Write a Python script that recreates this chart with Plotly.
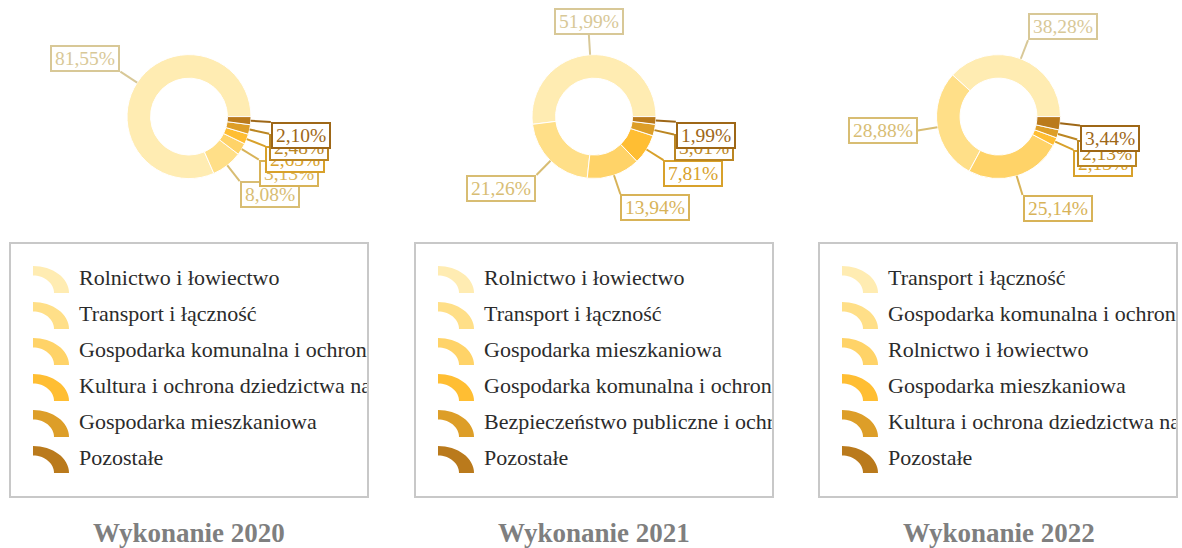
import math
import plotly.graph_objects as go

W, H = 1182, 548
OFF = 0  # page body margin removed via post_script

# ---------------- data ----------------
years = ["2020", "2021", "2022"]
titles = ["Wykonanie 2020", "Wykonanie 2021", "Wykonanie 2022"]

labels_2020 = ["Rolnictwo i łowiectwo", "Transport i łączność",
               "Gospodarka komunalna i ochrona środowiska",
               "Kultura i ochrona dziedzictwa narodowego",
               "Gospodarka mieszkaniowa", "Pozostałe"]
values_2020 = [81.55, 8.08, 3.13, 2.65, 2.48, 2.10]

labels_2021 = ["Rolnictwo i łowiectwo", "Transport i łączność",
               "Gospodarka mieszkaniowa",
               "Gospodarka komunalna i ochrona środowiska",
               "Bezpieczeństwo publiczne i ochrona przeciwpożarowa", "Pozostałe"]
values_2021 = [51.99, 21.26, 13.94, 7.81, 3.01, 1.99]

labels_2022 = ["Transport i łączność",
               "Gospodarka komunalna i ochrona środowiska",
               "Rolnictwo i łowiectwo", "Gospodarka mieszkaniowa",
               "Kultura i ochrona dziedzictwa narodowego", "Pozostałe"]
values_2022 = [38.28, 28.88, 25.14, 2.13, 2.13, 3.44]

slice_colors = ["#FFECB2", "#FFDF88", "#FFD368", "#FFBE33", "#DD9E28", "#BA7A1C"]

all_labels = [labels_2020, labels_2021, labels_2022]
all_values = [values_2020, values_2021, values_2022]

# ---------------- layout geometry (screen pixels) ----------------
centers_x = [189, 594, 998.5]
center_y = 116.6
R = 62
HOLE = 0.62
LEAD = 20
box_left = [10, 415, 819]
box_w = 358
box_top, box_bot = 243, 497
row_y0, row_step = 279.5, 36
FONT = "Liberation Serif, Times New Roman, serif"
LABEL_FS = 19.5
LEGEND_FS = 22


def darker(hexc, f=0.85):
    r, g, b = int(hexc[1:3], 16), int(hexc[3:5], 16), int(hexc[5:7], 16)
    return "#%02X%02X%02X" % (int(r * f), int(g * f), int(b * f))


def px(x):
    return (x - OFF) / W


def py(y):
    return 1 - (y - OFF) / H


def fmt(v):
    return ("%.2f" % v).replace(".", ",") + "%"


def text_width(s, fs):
    w = 0
    for ch in s:
        if ch.isdigit():
            w += 0.5
        elif ch == ",":
            w += 0.25
        elif ch == "%":
            w += 0.833
        else:
            w += 0.5
    return w * fs


fig = go.Figure()
shapes = []
annotations = []
layout_axes = {}

for k in range(3):
    cx = centers_x[k]
    vals = all_values[k]
    labs = all_labels[k]
    total = sum(vals)
    # first slice starts at 3 o'clock and slices run counterclockwise
    rot = 90 - 360.0 * vals[0] / total
    fig.add_trace(go.Pie(
        labels=labs, values=vals, sort=False, direction="counterclockwise",
        rotation=rot, hole=HOLE, textinfo="none", hoverinfo="skip",
        marker=dict(colors=slice_colors, line=dict(color="white", width=1)),
        domain=dict(x=[px(cx - R), px(cx + R)], y=[py(center_y + R), py(center_y - R)]),
        showlegend=False,
    ))

    cum = 0.0
    for i, v in enumerate(vals):
        a = math.radians(360.0 * (cum + v / 2) / total)
        cum += v
        c, s = math.cos(a), math.sin(a)
        col = darker(slice_colors[i])
        x0, y0 = cx + R * c, center_y - R * s
        x1, y1 = cx + (R + LEAD) * c, center_y - (R + LEAD) * s
        shapes.append(dict(type="line", xref="paper", yref="paper",
                           x0=px(x0), y0=py(y0), x1=px(x1), y1=py(y1),
                           line=dict(color=col, width=2), layer="above"))
        xa = "center" if abs(c) < 0.15 else ("left" if c > 0 else "right")
        if s > 0:
            ya = "bottom"
        elif c < -0.9:
            ya = "middle"
        else:
            ya = "top"
        t = fmt(v)
        annotations.append(dict(
            x=px(x1), y=py(y1), xref="paper", yref="paper", text=t,
            showarrow=False, xanchor=xa, yanchor=ya,
            width=text_width(t, LABEL_FS) + 6, height=23,
            font=dict(family=FONT, size=LABEL_FS, color=col),
            bordercolor=col, borderwidth=2, borderpad=0, bgcolor="white",
        ))

    # legend box
    bl = box_left[k]
    shapes.append(dict(type="rect", xref="paper", yref="paper",
                       x0=px(bl), x1=px(bl + box_w), y0=py(box_top), y1=py(box_bot),
                       line=dict(color="#C8C8C8", width=2), layer="above"))
    # legend icons (elliptic quarter rings)
    for i in range(len(labs)):
        yc = row_y0 + i * row_step
        ix0, iy0 = bl + 23, yc - 13.5
        ox, oy = 36, 27
        inx, iny = 21, 17.5
        ex, ey = ix0, iy0 + oy
        pts = []
        n = 16
        for j in range(n + 1):
            th = math.pi / 2 - (math.pi / 2) * j / n
            pts.append((ex + ox * math.cos(th), ey - oy * math.sin(th)))
        for j in range(n + 1):
            th = (math.pi / 2) * j / n
            pts.append((ex + inx * math.cos(th), ey - iny * math.sin(th)))
        path = "M " + " L ".join("%.5f,%.5f" % (px(a_), py(b_)) for a_, b_ in pts) + " Z"
        shapes.append(dict(type="path", xref="paper", yref="paper", path=path,
                           fillcolor=slice_colors[i], line=dict(width=0), layer="above"))

    # legend text via clipped scatter text on its own axis
    axn = "" if k == 0 else str(k + 1)
    fig.add_trace(go.Scatter(
        x=[bl + 69] * len(labs), y=[row_y0 + i * row_step for i in range(len(labs))],
        mode="text", text=labs, textposition="middle right",
        textfont=dict(family=FONT, size=LEGEND_FS, color="#2B2B2B"),
        cliponaxis=True, hoverinfo="skip", showlegend=False,
        xaxis="x" + axn, yaxis="y" + axn,
    ))
    layout_axes["xaxis" + axn] = dict(domain=[px(bl), px(bl + box_w - 1)], range=[bl, bl + box_w - 1],
                                      visible=False, fixedrange=True, anchor="y" + axn)
    layout_axes["yaxis" + axn] = dict(domain=[py(box_bot), py(box_top)], range=[box_bot, box_top],
                                      visible=False, fixedrange=True, anchor="x" + axn)

    annotations.append(dict(
        x=px(cx), y=py(533), xref="paper", yref="paper", text="<b>%s</b>" % titles[k],
        showarrow=False, xanchor="center", yanchor="middle",
        font=dict(family=FONT, size=27, color="#7F7F7F"),
    ))

fig.update_layout(
    width=W, height=H, margin=dict(l=0, r=0, t=0, b=0),
    paper_bgcolor="white", plot_bgcolor="rgba(0,0,0,0)",
    showlegend=False, shapes=shapes, annotations=annotations,
    hovermode=False,
    **layout_axes,
)

fig.write_html(
    "out.html",
    config={"displayModeBar": False, "staticPlot": True},
    post_script=("document.body.style.margin='0';"
                 "document.body.style.overflow='hidden';"
                 "document.documentElement.style.overflow='hidden';"),
)
